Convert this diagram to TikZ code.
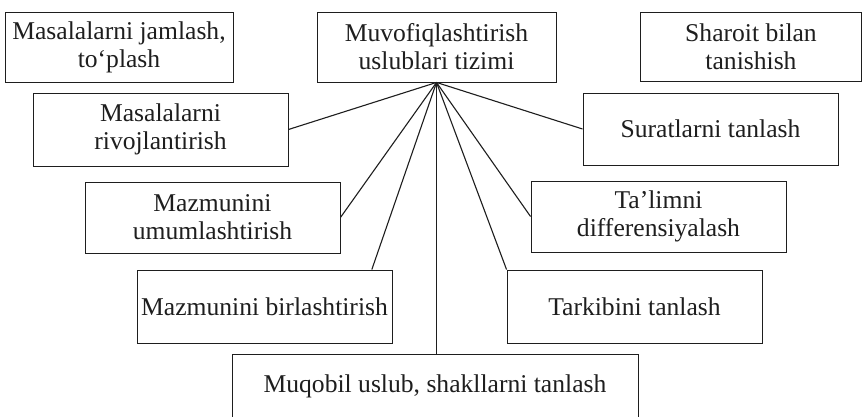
\documentclass[tikz,border=0pt]{standalone}
\usepackage{fontspec}
\setmainfont{Liberation Serif}
\definecolor{ink}{HTML}{1E1E1E}
\tikzset{
  box/.style={draw=ink, line width=0.9pt, align=center, inner sep=0pt,
    text=ink, font=\fontsize{25.6}{28}\selectfont},
  link/.style={draw=ink, line width=1.1pt}
}
\begin{document}
\begin{tikzpicture}[x=1pt,y=-1pt]
\clip (0,0) rectangle (862,416);
\fill[white] (0,0) rectangle (862,416);
\node[box, minimum width=228pt, minimum height=70pt] (jam) at (119,47) {Masalalarni jamlash,\\to‘plash};
\node[box, minimum width=239pt, minimum height=70pt] (muv) at (436.5,47) {Muvofiqlashtirish\\uslublari tizimi};
\node[box, minimum width=221pt, minimum height=69pt] (shar) at (751,46.5) {Sharoit bilan\\tanishish};
\node[box, minimum width=255pt, minimum height=73pt] (riv) at (160.5,129.5) {Masalalarni\\rivojlantirish};
\node[box, minimum width=255pt, minimum height=72pt] (sur) at (710.5,129) {Suratlarni tanlash};
\node[box, minimum width=255pt, minimum height=71pt] (umu) at (212.5,217.5) {Mazmunini\\umumlashtirish};
\node[box, minimum width=255pt, minimum height=71pt] (tal) at (658.5,216.5) {Ta’limni\\differensiyalash};
\node[box, minimum width=255pt, minimum height=73pt] (bir) at (264.5,306.5) {Mazmunini birlashtirish};
\node[box, minimum width=255pt, minimum height=73pt] (tar) at (634.5,306.5) {Tarkibini tanlash};
\node[box, minimum width=406pt, minimum height=64pt] (muq) at (435,386) {Muqobil uslub, shakllarni tanlash};
\coordinate (hub) at (muv.south);
\draw[link] (hub) -- (riv.east);
\draw[link] (hub) -- (sur.west);
\draw[link] (hub) -- (umu.east);
\draw[link] (hub) -- (tal.west);
\draw[link] (hub) -- (bir.19.4);
\draw[link] (hub) -- (tar.north west);
\draw[link] (hub) -- (hub |- muq.north);
\end{tikzpicture}
\end{document}
